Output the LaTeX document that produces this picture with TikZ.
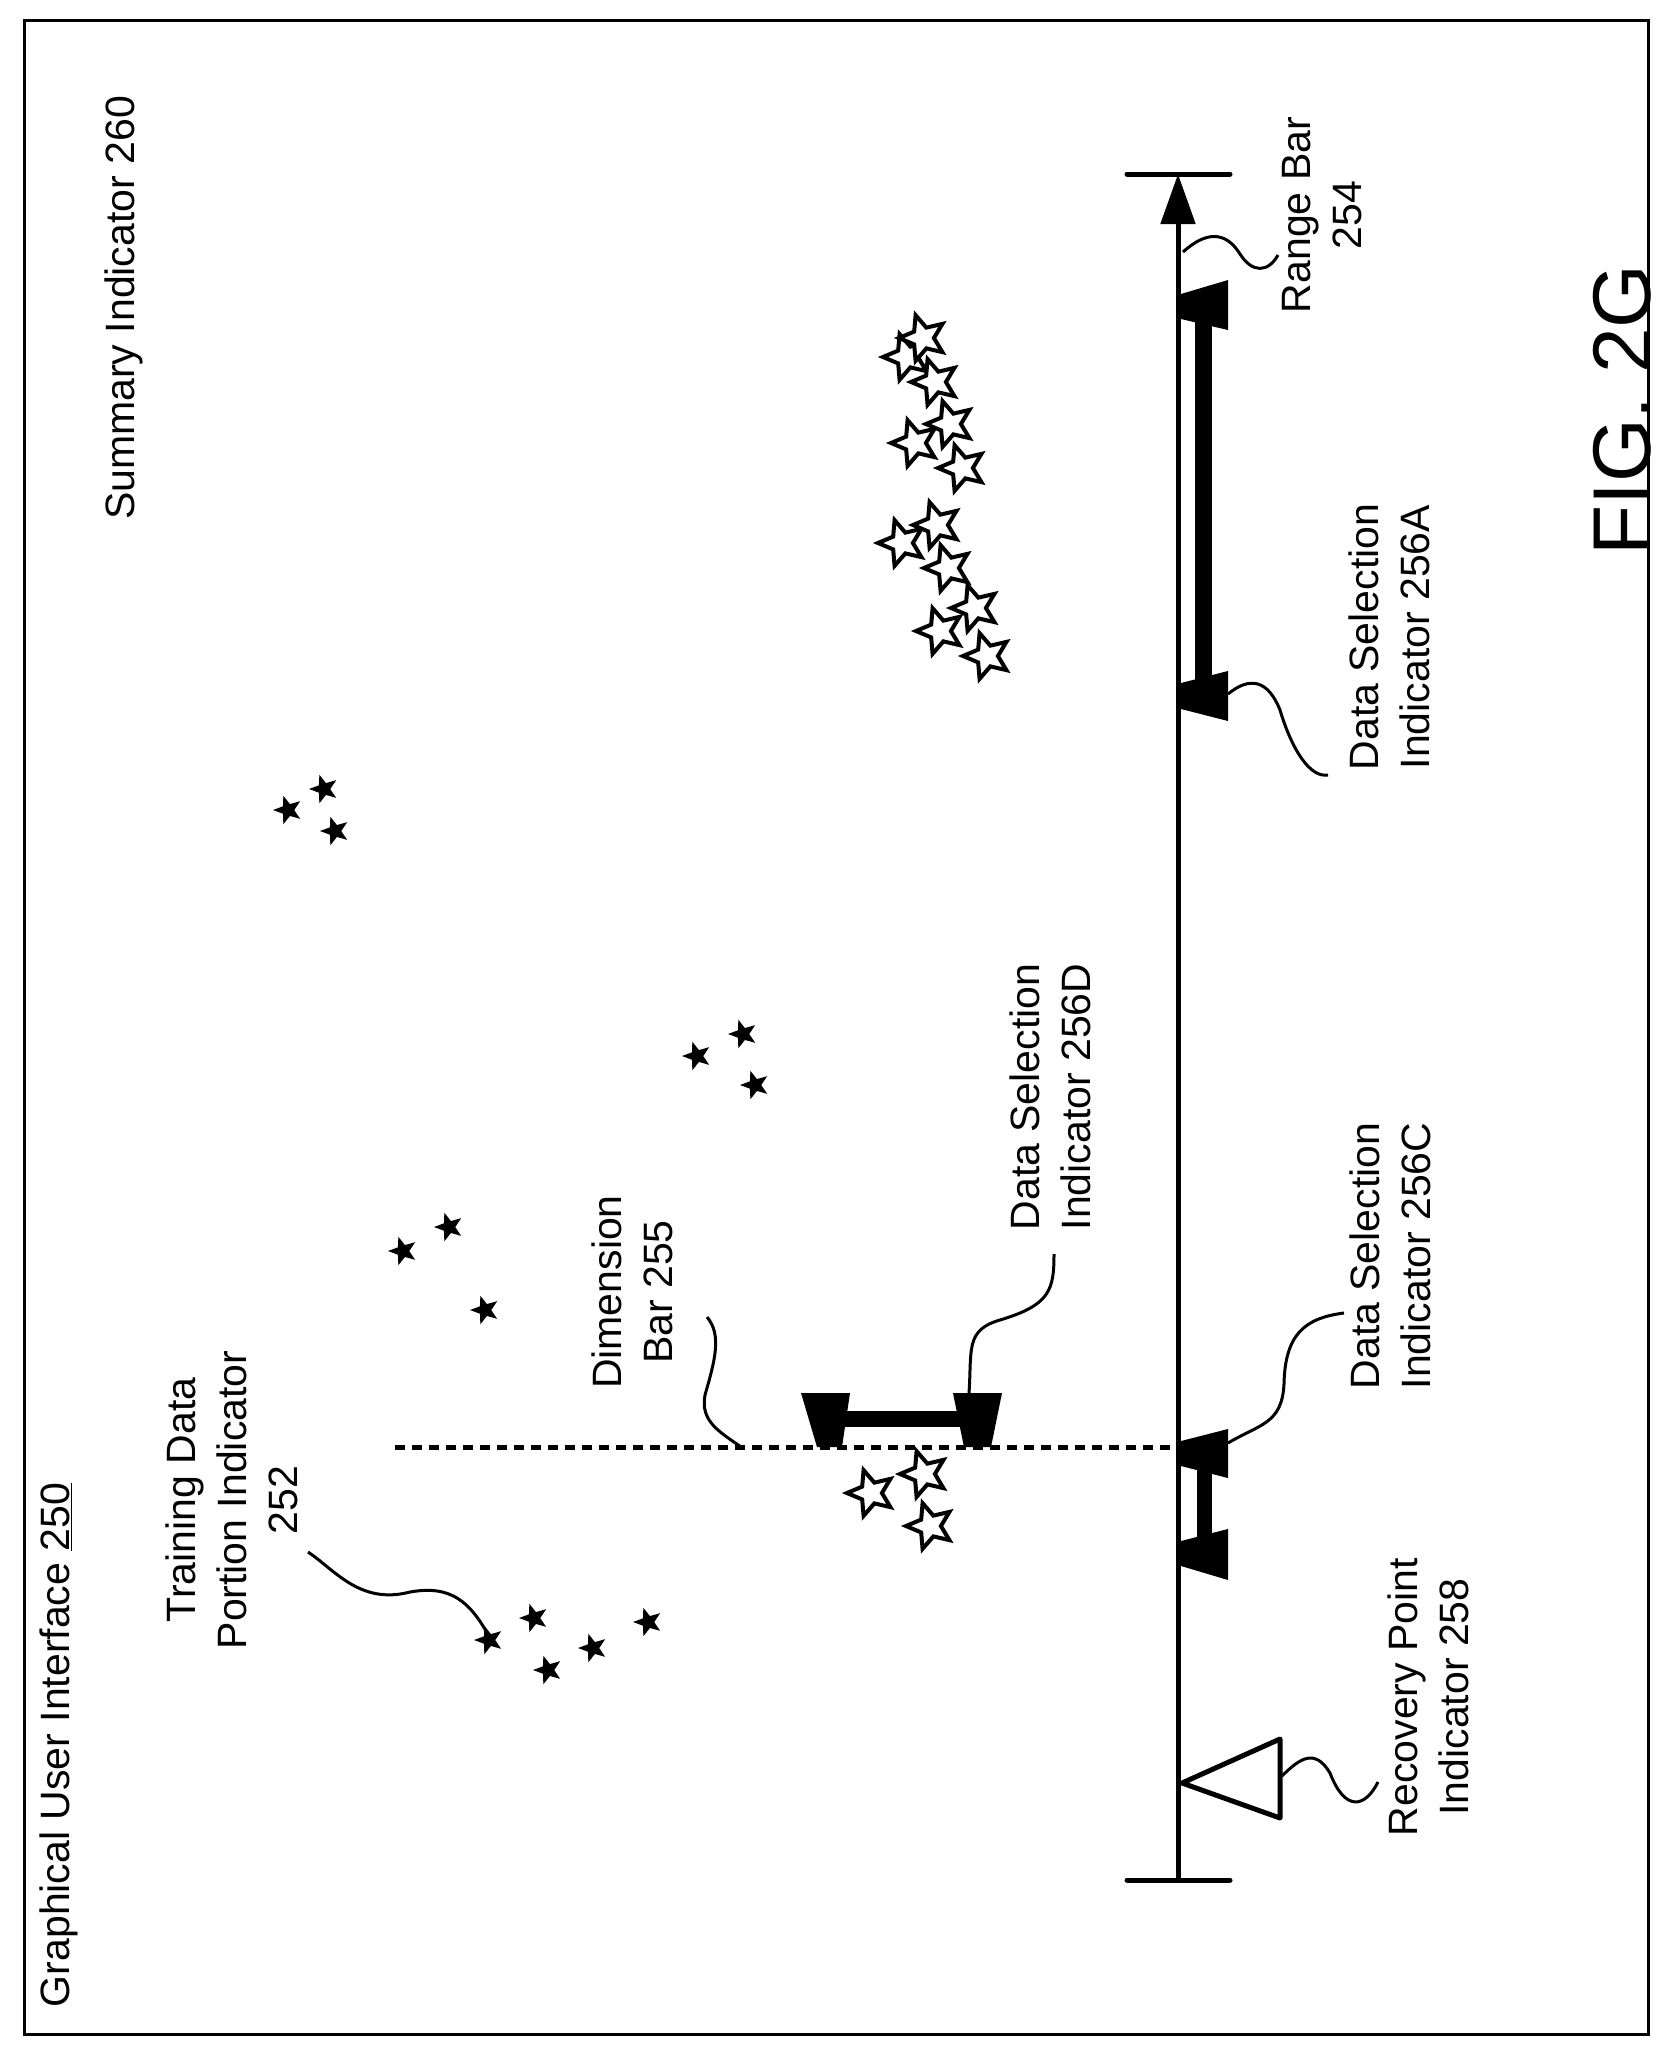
\documentclass[tikz,border=0pt]{standalone}
\usepackage{fontspec}
\setmainfont{Liberation Sans}
\usetikzlibrary{arrows.meta,shapes.geometric}

\tikzset{
  lbl/.style={rotate=90,align=center,font=\fontsize{41}{51}\selectfont,inner sep=0pt},
  lead/.style={line width=3pt},
  dotstar/.style={star,star points=5,star point ratio=2.4,fill=black,inner sep=0pt,minimum size=30pt,shape border rotate=90},
  openstar/.style={star,star points=5,star point ratio=2.2,draw=black,fill=white,line width=4pt,inner sep=0pt,minimum size=48pt,shape border rotate=90},
  sel/.style={fill=black}
}

\begin{document}
\begin{tikzpicture}[x=1pt,y=-1pt]
\useasboundingbox (0,0) rectangle (1677,2054);
\draw[line width=3pt] (24,20) rectangle (1648,2034);

% labels
\node[lbl] (gui) at (59,1745) {Graphical User Interface \underline{250}};
\node[lbl] (summ) at (124,308) {Summary Indicator 260};
\node[rotate=90,font=\fontsize{82}{90}\selectfont,inner sep=0pt] (fig) at (1622,410) {FIG. 2G};
\node[lbl] (range) at (1322,215) {Range Bar\\254};
\node[lbl] (dsa) at (1389,637) {Data Selection\\Indicator 256A};
\node[lbl] (dsc) at (1390,1256) {Data Selection\\Indicator 256C};
\node[lbl] (dsd) at (1050,1097) {Data Selection\\Indicator 256D};
\node[lbl] (rec) at (1428,1697) {Recovery Point\\Indicator 258};
\node[lbl] (dim) at (632,1292) {Dimension\\Bar 255};
\node[lbl] (train) at (232,1500) {Training Data\\Portion Indicator\\252};

% range bar with caps
\coordinate (top) at (1178,174);
\coordinate (bot) at (1178,1880);
\draw[line width=5pt,-{Triangle[length=50pt,width=34pt]}] (bot) -- (top);
\draw[line width=5pt,line cap=round] (1127,174) -- (1230,174);
\draw[line width=5pt,line cap=round] (1127,1880) -- (1230,1880);

% data selection 256A
\fill[sel] (1181,294) -- (1228,280) -- (1228,330) -- (1181,319) -- cycle;
\fill[sel] (1195,319) rectangle (1212,683);
\fill[sel] (1181,683) -- (1228,671) -- (1228,721) -- (1181,709) -- cycle;
% data selection 256C
\fill[sel] (1181,1441) -- (1228,1429) -- (1228,1478) -- (1181,1466) -- cycle;
\fill[sel] (1197,1466) rectangle (1212,1541);
\fill[sel] (1181,1541) -- (1228,1529) -- (1228,1580) -- (1181,1566) -- cycle;

% dimension bar
\draw[line width=5pt,dash pattern=on 10pt off 7pt] (395,1447) -- (1176,1447);
\fill[sel] (801,1393) -- (850,1393) -- (842,1447) -- (817,1447) -- cycle;
\fill[sel] (953,1393) -- (1002,1393) -- (991,1447) -- (964,1447) -- cycle;
\fill[sel] (842,1411) rectangle (960,1427);

% recovery point
\draw[line width=5pt,line join=round] (1182,1783) -- (1280,1739) -- (1280,1818) -- cycle;

% leaders
\coordinate (r1) at (1183,252);  \coordinate (r2) at (1278,255);
\draw[lead] (r1) .. controls (1205,232) and (1225,230) .. (1240,254) .. controls (1252,273) and (1268,273) .. (r2);
\coordinate (a1) at (1228,694);  \coordinate (a2) at (1328,775);
\draw[lead] (a1) .. controls (1250,676) and (1268,680) .. (1280,710) .. controls (1292,750) and (1310,778) .. (a2);
\coordinate (c1) at (1228,1443); \coordinate (c2) at (1344,1313);
\draw[lead] (c1) .. controls (1260,1424) and (1282,1424) .. (1284,1384) .. controls (1285,1334) and (1305,1318) .. (c2);
\coordinate (d1) at (969,1393);  \coordinate (d2) at (1054,1254);
\draw[lead] (d1) .. controls (972,1350) and (965,1330) .. (1000,1320) .. controls (1050,1305) and (1054,1290) .. (d2);
\coordinate (p1) at (1282,1776); \coordinate (p2) at (1378,1782);
\draw[lead] (p1) .. controls (1300,1758) and (1315,1748) .. (1330,1773) .. controls (1345,1812) and (1365,1808) .. (p2);
\coordinate (m1) at (744,1449);  \coordinate (m2) at (707,1317);
\draw[lead] (m1) .. controls (720,1432) and (700,1422) .. (705,1395) .. controls (715,1360) and (722,1335) .. (m2);
\coordinate (t1) at (491,1640);  \coordinate (t2) at (308,1552);
\draw[lead] (t1) .. controls (470,1600) and (450,1585) .. (410,1592) .. controls (360,1605) and (335,1570) .. (t2);

% filled stars
\foreach \p [count=\i] in {(489,1640),(534,1618),(548,1670),(593,1648),(648,1622),
  (403,1251),(449,1227),(485,1310),(697,1056),(743,1034),(755,1085),
  (288,810),(324,789),(335,831)}
  \node[dotstar] (s\i) at \p {};

% open stars
\foreach \p [count=\i] in {(907,357),(923,338),(935,382),(915,443),(950,424),(962,468),
  (902,543),(937,525),(948,568),(940,631),(975,608),(987,656),
  (871,1493),(924,1474),(930,1526)}
  \node[openstar] (o\i) at \p {};
\end{tikzpicture}
\end{document}
